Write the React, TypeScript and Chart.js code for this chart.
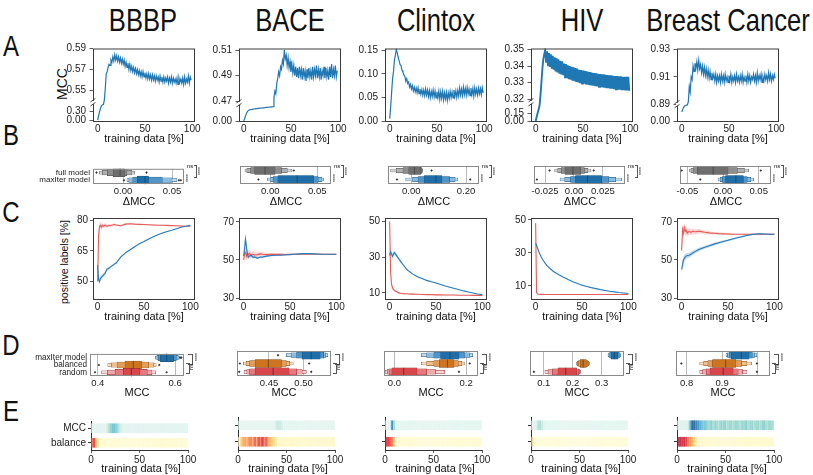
import React, { useEffect, useRef } from 'react';
import { Chart, registerables } from 'chart.js';
Chart.register(...registerables);

const SANS = '"Liberation Sans", Arial, Helvetica, sans-serif';

// ---------------- text ----------------
const DATASETS = ['BBBP', 'BACE', 'Clintox', 'HIV', 'Breast Cancer'];
const PCT_TICKS = [0, 50, 100];
const PCT_LABELS = ['0', '50', '100'];

// ---------------- A: MCC vs training data (one value per 1 % of training data) ----------------
const A_BBBP = [0.000,0.150,0.300,0.400,0.480,0.520,0.530,0.541,0.552,0.566,
0.568,0.572,0.575,0.574,0.579,0.577,0.582,0.578,0.584,0.579,
0.583,0.578,0.582,0.577,0.581,0.576,0.580,0.575,0.579,0.573,
0.577,0.572,0.576,0.570,0.575,0.569,0.573,0.568,0.572,0.567,
0.571,0.566,0.570,0.565,0.569,0.564,0.568,0.563,0.568,0.563,
0.567,0.562,0.566,0.561,0.566,0.561,0.565,0.560,0.565,0.560,
0.564,0.559,0.564,0.560,0.563,0.558,0.564,0.559,0.563,0.558,
0.563,0.558,0.562,0.559,0.563,0.557,0.562,0.558,0.563,0.557,
0.562,0.558,0.561,0.557,0.562,0.556,0.562,0.558,0.561,0.557,
0.562,0.556,0.563,0.557,0.561,0.558,0.564,0.557,0.563,0.560];
const A_BACE = [0.000,0.080,0.170,0.250,0.300,0.330,0.345,0.355,0.360,0.365,
0.370,0.375,0.380,0.385,0.390,0.393,0.396,0.400,0.403,0.406,
0.410,0.413,0.416,0.420,0.423,0.426,0.430,0.433,0.436,0.440,
0.443,0.446,0.473,0.478,0.476,0.484,0.488,0.493,0.490,0.497,
0.495,0.502,0.499,0.510,0.503,0.506,0.498,0.504,0.496,0.501,
0.493,0.499,0.492,0.498,0.490,0.497,0.489,0.496,0.488,0.497,
0.490,0.495,0.487,0.496,0.489,0.494,0.486,0.495,0.488,0.496,
0.489,0.494,0.487,0.497,0.489,0.495,0.490,0.498,0.488,0.495,
0.489,0.496,0.487,0.494,0.490,0.497,0.488,0.496,0.489,0.494,
0.487,0.497,0.489,0.499,0.488,0.495,0.490,0.498,0.489,0.494];
const A_CLINTOX = [0.005,0.030,0.060,0.090,0.105,0.130,0.140,0.152,0.145,0.135,
0.128,0.120,0.118,0.108,0.104,0.098,0.095,0.085,0.090,0.080,
0.083,0.072,0.078,0.068,0.075,0.064,0.072,0.062,0.070,0.060,
0.071,0.058,0.068,0.057,0.067,0.055,0.066,0.054,0.068,0.055,
0.066,0.052,0.065,0.050,0.063,0.052,0.066,0.051,0.064,0.049,
0.062,0.050,0.064,0.046,0.062,0.048,0.063,0.045,0.060,0.047,
0.061,0.044,0.060,0.048,0.063,0.050,0.062,0.049,0.066,0.052,
0.064,0.050,0.065,0.053,0.070,0.055,0.068,0.054,0.072,0.056,
0.069,0.055,0.071,0.057,0.068,0.054,0.070,0.056,0.069,0.053,
0.071,0.057,0.068,0.055,0.070,0.058,0.069,0.056,0.071,0.060];
const A_HIV = [0.000,0.080,0.150,0.220,0.290,0.322,0.330,0.338,0.344,0.347,
0.3495,0.3420,0.3488,0.3405,0.3478,0.3395,0.3470,0.3385,0.3462,0.3378,
0.3452,0.3368,0.3446,0.3362,0.3440,0.3355,0.3432,0.3350,0.3428,0.3345,
0.3415,0.3332,0.3412,0.3328,0.3405,0.3322,0.3400,0.3318,0.3396,0.3312,
0.3392,0.3310,0.3388,0.3305,0.3385,0.3302,0.3378,0.3298,0.3376,0.3295,
0.3374,0.3294,0.3372,0.3290,0.3368,0.3288,0.3366,0.3285,0.3364,0.3284,
0.3360,0.3282,0.3358,0.3280,0.3356,0.3278,0.3354,0.3275,0.3352,0.3274,
0.3350,0.3272,0.3350,0.3270,0.3348,0.3268,0.3346,0.3267,0.3345,0.3265,
0.3344,0.3264,0.3342,0.3262,0.3340,0.3260,0.3340,0.3258,0.3338,0.3258,
0.3338,0.3256,0.3336,0.3255,0.3336,0.3254,0.3335,0.3254,0.3336,0.3252];
const A_BC = [0.480,0.600,0.720,0.790,0.820,0.840,0.850,0.892,0.903,0.899,
0.910,0.908,0.918,0.914,0.920,0.916,0.921,0.915,0.922,0.916,
0.919,0.913,0.918,0.912,0.917,0.911,0.916,0.910,0.915,0.909,
0.914,0.908,0.913,0.909,0.912,0.907,0.912,0.906,0.911,0.907,
0.911,0.906,0.912,0.907,0.911,0.906,0.912,0.907,0.910,0.906,
0.911,0.907,0.912,0.906,0.910,0.907,0.911,0.906,0.912,0.907,
0.910,0.906,0.911,0.907,0.912,0.906,0.910,0.907,0.911,0.906,
0.912,0.907,0.911,0.906,0.910,0.908,0.912,0.907,0.911,0.906,
0.913,0.907,0.911,0.908,0.912,0.906,0.910,0.907,0.912,0.908,
0.911,0.907,0.913,0.908,0.912,0.907,0.911,0.908,0.912,0.909];
const A_SERIES = [A_BBBP, A_BACE, A_CLINTOX, A_HIV, A_BC];
const A_YTICKS = [[0, 0.3, 0.55, 0.57, 0.59], [0, 0.47, 0.49, 0.51], [0, 0.05, 0.1, 0.15], [0, 0.15, 0.32, 0.33, 0.34, 0.35], [0, 0.89, 0.91, 0.93]];
const A_YLABELS = [['0.00', '0.30', '0.55', '0.57', '0.59'], ['0.00', '0.47', '0.49', '0.51'], ['0.00', '0.05', '0.10', '0.15'], ['0.00', '0.15', '0.32', '0.33', '0.34', '0.35'], ['0.00', '0.89', '0.91', '0.93']];

// ---------------- B: ΔMCC letter-value plots (inner → outer levels) ----------------
const B_ROWS = ['full model', 'maxIter model'];
const B_FULL_LEVELS = [
  [[-0.010, 0.002], [-0.016, 0.004], [-0.021, 0.009], [-0.024, 0.012]],
  [[-0.0167, 0.005], [-0.021, 0.012], [-0.025, 0.018], [-0.027, 0.023]],
  [[-0.009, 0.034], [-0.030, 0.038], [-0.055, 0.040], [-0.075, 0.041]],
  [[-0.0078, 0.0058], [-0.011, 0.009], [-0.014, 0.012], [-0.0166, 0.0147]],
  [[-0.036, 0.007], [-0.042, 0.020], [-0.045, 0.030], [-0.047, 0.036]],
];
const B_FULL_MEDIAN = [-0.003, -0.0056, 0.012, -0.001, -0.014];
const B_FULL_OUTLIERS = [[-0.027, 0.024], [0.025], [0.074], [-0.021, 0.017], [-0.058, 0.053]];
const B_MAX_LEVELS = [
  [[0.0146, 0.026], [0.010, 0.040], [0.006, 0.050], [0.004, 0.055]],
  [[0.008, 0.046], [0.003, 0.051], [0.000, 0.055], [-0.003, 0.057]],
  [[0.047, 0.112], [0.025, 0.140], [0.005, 0.160], [-0.020, 0.170]],
  [[0.0013, 0.0238], [-0.003, 0.030], [-0.008, 0.036], [-0.012, 0.041]],
  [[0.0035, 0.0285], [-0.001, 0.034], [-0.004, 0.039], [-0.007, 0.043]],
];
const B_MAX_MEDIAN = [0.0225, 0.0286, 0.090, 0.0116, 0.018];
const B_MAX_OUTLIERS = [[0.001, 0.057, 0.059], [-0.0127], [-0.052, 0.215], [-0.032], [-0.032]];
const B_XRANGE = [[-0.0306, 0.0622], [-0.0323, 0.0646], [-0.0847, 0.247], [-0.0345, 0.044], [-0.0604, 0.0673]];
const B_XTICKS = [[0, 0.05], [0, 0.05], [0, 0.2], [-0.025, 0, 0.025], [-0.05, 0, 0.05]];
const B_XLABELS = [['0.00', '0.05'], ['0.00', '0.05'], ['0.00', '0.20'], ['-0.025', '0.00', '0.025'], ['-0.05', '0.00', '0.05']];

// ---------------- C: positive labels [%] ----------------
const C_X = [0, 1, 2, 3, 4, 5, 6, 8, 10, 12, 15, 18, 20, 25, 30, 35, 40, 45, 50, 55, 60, 65, 70, 75, 80, 85, 90, 95, 100];
const C_RED_MEAN = [
  [50, 72, 77, 77.5, 76.5, 77.5, 77, 77.5, 77, 77.3, 77.5, 77.8, 77.6, 77.2, 78, 78.2, 78, 77.9, 77.8, 77.7, 77.6, 77.5, 77.5, 77.4, 77.3, 77.2, 77.1, 77, 77],
  [50, 53.5, 54, 52, 53.5, 52.8, 53.5, 52.5, 53, 52.6, 52.8, 53.2, 53, 52.8, 53, 52.9, 53, 52.8, 53, 53, 53, 53.1, 53, 53, 53, 53, 53, 53, 53],
  [50, 22, 15, 13, 12, 11.5, 11, 10.5, 10, 9.8, 9.6, 9.5, 9.4, 9.3, 9.2, 9.1, 9, 9, 8.9, 8.9, 8.8, 8.8, 8.8, 8.7, 8.7, 8.7, 8.6, 8.6, 8.6],
  [48, 6, 5.2, 5, 5, 4.9, 4.9, 4.9, 4.8, 4.8, 4.8, 4.8, 4.8, 4.8, 4.8, 4.8, 4.8, 4.8, 4.8, 4.8, 4.8, 4.8, 4.8, 4.8, 4.8, 4.8, 4.8, 4.8, 4.8],
  [55, 66, 64, 67, 65, 65.5, 64, 65, 64.5, 65, 64.8, 65, 65, 64.5, 64.2, 64, 63.8, 63.7, 63.6, 63.5, 63.5, 63.5, 63.5, 63.5, 63.5, 63.5, 63.5, 63.5, 63.5],
];
const C_RED_SD = [
  [1, 2.5, 2, 1.5, 1.5, 1.2, 1, 1, 0.8, 0.8, 0.6, 0.6, 0.5, 0.5, 0.4, 0.4, 0.3, 0.3, 0.3, 0.3, 0.3, 0.2, 0.2, 0.2, 0.2, 0.2, 0.2, 0.1, 0.1],
  [4, 3, 3, 2.5, 2.5, 2, 2, 1.8, 1.5, 1.3, 1.2, 1, 1, 0.8, 0.7, 0.6, 0.5, 0.5, 0.4, 0.4, 0.3, 0.3, 0.3, 0.2, 0.2, 0.2, 0.1, 0.1, 0.1],
  [0.5, 2, 1.5, 1, 0.8, 0.7, 0.6, 0.5, 0.5, 0.4, 0.4, 0.3, 0.3, 0.3, 0.2, 0.2, 0.2, 0.2, 0.2, 0.2, 0.1, 0.1, 0.1, 0.1, 0.1, 0.1, 0.1, 0.1, 0.1],
  [0.5, 0.5, 0.3, 0.2, 0.2, 0.2, 0.2, 0.2, 0.1, 0.1, 0.1, 0.1, 0.1, 0.1, 0.1, 0.1, 0.1, 0.1, 0.1, 0.1, 0.1, 0.1, 0.1, 0.1, 0.1, 0.1, 0.1, 0.1, 0.1],
  [3, 3, 3, 2.5, 2.5, 2, 2, 1.8, 1.6, 1.5, 1.3, 1.2, 1.1, 1, 0.8, 0.7, 0.6, 0.5, 0.5, 0.4, 0.3, 0.3, 0.3, 0.2, 0.2, 0.2, 0.2, 0.2, 0.2],
];
const C_BLUE_MEAN = [
  [58, 51, 50, 51.5, 52, 52.5, 53, 54, 56, 56.5, 57.5, 58.5, 59, 62, 64, 65.5, 67, 68.5, 69.5, 70.7, 71.8, 72.8, 73.7, 74.4, 75, 75.8, 76.5, 77, 77.5],
  [52, 56, 61, 57, 53, 51.5, 52, 52.5, 51.5, 51.5, 51, 51.5, 51.5, 52, 52.3, 52.5, 52.5, 52.7, 52.8, 53, 53.2, 53.3, 53.3, 53.2, 53.1, 53, 53, 53, 53],
  [31, 33, 32, 30.5, 31.5, 32.5, 32, 30.5, 29, 27.5, 25.5, 23.5, 22.5, 20.5, 19, 18, 17, 16.2, 15.5, 14.7, 13.9, 13.2, 12.5, 11.8, 11.1, 10.5, 9.9, 9.4, 9],
  [36, 34.5, 33, 31.5, 30, 28.8, 27.6, 25.6, 24, 22.5, 20.8, 19.4, 18.5, 16.8, 15.3, 13.9, 12.6, 11.5, 10.5, 9.7, 9, 8.4, 7.8, 7.3, 6.8, 6.4, 6, 5.7, 5.4],
  [45, 47.5, 50, 51, 51.5, 52, 52.3, 52.5, 53, 53.7, 54.5, 55.3, 55.7, 56.7, 57.5, 58.3, 59, 59.7, 60.3, 61, 61.6, 62.2, 62.8, 63.3, 63.6, 63.7, 63.6, 63.5, 63.5],
];
const C_BLUE_SD = [
  [2, 1.5, 1.5, 1.2, 1.2, 1, 1, 0.8, 0.8, 0.6, 0.5, 0.5, 0.4, 0.4, 0.3, 0.3, 0.3, 0.3, 0.2, 0.2, 0.2, 0.2, 0.2, 0.2, 0.1, 0.1, 0.1, 0.1, 0.1],
  [3, 3, 2.5, 2, 1.5, 1.2, 1, 1, 0.8, 0.8, 0.6, 0.6, 0.5, 0.5, 0.4, 0.4, 0.4, 0.3, 0.3, 0.3, 0.3, 0.2, 0.2, 0.2, 0.2, 0.1, 0.1, 0.1, 0.1],
  [2, 2, 1.5, 1.5, 1.5, 1.2, 1.2, 1, 1, 0.8, 0.6, 0.5, 0.5, 0.4, 0.3, 0.3, 0.3, 0.2, 0.2, 0.2, 0.2, 0.2, 0.2, 0.1, 0.1, 0.1, 0.1, 0.1, 0.1],
  [1, 0.8, 0.6, 0.5, 0.5, 0.4, 0.4, 0.4, 0.3, 0.3, 0.3, 0.3, 0.2, 0.2, 0.2, 0.2, 0.2, 0.2, 0.1, 0.1, 0.1, 0.1, 0.1, 0.1, 0.1, 0.1, 0.1, 0.1, 0.1],
  [3, 2.5, 2, 1.8, 1.6, 1.5, 1.4, 1.3, 1.2, 1.1, 1, 1, 0.9, 0.8, 0.8, 0.7, 0.7, 0.6, 0.6, 0.5, 0.5, 0.5, 0.4, 0.4, 0.3, 0.3, 0.3, 0.3, 0.3],
];
const C_YRANGE = [[41, 81], [29, 72], [6, 52], [1.5, 51.2], [29, 72]];
const C_YTICKS = [[50, 65, 80], [30, 50, 70], [10, 30, 50], [10, 30, 50], [30, 50, 70]];

// ---------------- D: MCC letter-value plots ----------------
const D_ROWS = ['maxIter model', 'balanced', 'random'];
const D_MAX_LEVELS = [
  [[0.562, 0.596], [0.557, 0.603], [0.553, 0.608], [0.549, 0.611]],
  [[0.498, 0.524], [0.490, 0.529], [0.482, 0.532], [0.475, 0.535]],
  [[0.129, 0.180], [0.110, 0.195], [0.090, 0.210], [0.075, 0.218]],
  [[0.333, 0.355], [0.328, 0.360], [0.325, 0.363], [0.322, 0.365]],
  [[0.926, 0.976], [0.920, 0.985], [0.915, 0.992], [0.911, 0.998]],
];
const D_BAL_LEVELS = [
  [[0.4705, 0.513], [0.450, 0.532], [0.435, 0.545], [0.426, 0.551]],
  [[0.430, 0.468], [0.422, 0.475], [0.417, 0.480], [0.413, 0.485]],
  [[0.125, 0.166], [0.110, 0.178], [0.090, 0.188], [0.075, 0.195]],
  [[0.226, 0.247], [0.220, 0.252], [0.216, 0.255], [0.212, 0.258]],
  [[0.873, 0.939], [0.860, 0.955], [0.848, 0.970], [0.837, 0.983]],
];
const D_RND_LEVELS = [
  [[0.466, 0.509], [0.445, 0.528], [0.425, 0.540], [0.410, 0.550]],
  [[0.430, 0.479], [0.422, 0.490], [0.418, 0.498], [0.414, 0.504]],
  [[-0.007, 0.063], [-0.015, 0.090], [-0.020, 0.115], [-0.026, 0.140]],
  [[0.149, 0.213], [0.130, 0.220], [0.115, 0.224], [0.104, 0.227]],
  [[0.866, 0.931], [0.855, 0.945], [0.845, 0.958], [0.837, 0.970]],
];
const D_MEDIANS = [[0.578, 0.492, 0.487], [0.511, 0.449, 0.456], [0.155, 0.148, 0.026], [0.344, 0.236, 0.176], [0.954, 0.910, 0.903]];
const D_OUTLIERS = [
  [[0.613, 0.616], [0.403, 0.559], [0.393, 0.578]],
  [[0.463], [0.408, 0.508], [0.407, 0.511]],
  [[], [0.210], [0.180]],
  [[], [], [0.066]],
  [[], [0.785, 0.998], [0.998]],
];
const D_XRANGE = [[0.380, 0.623], [0.4038, 0.5396], [-0.029, 0.233], [0.0525, 0.377], [0.770, 1.035]];
const D_XTICKS = [[0.4, 0.6], [0.45, 0.5], [0, 0.2], [0.1, 0.2, 0.3], [0.8, 0.9, 1.0]];
const D_XLABELS = [['0.4', '0.6'], ['0.45', '0.50'], ['0.0', '0.2'], ['0.1', '0.2', '0.3'], ['0.8', '0.9', '']];

// ---------------- E: heat strips, one cell per 2 % of training data ----------------
const E_ROWS = ['MCC', 'balance'];
const E_MCC = [
  [0.12,0.12,0.12,0.12,0.12,0.12,0.12,0.12,0.30,0.45,0.55,0.62,0.55,0.48,0.30,0.22,0.12,0.12,0.12,0.12,0.12,0.12,0.12,0.12,0.12,0.12,0.12,0.12,0.12,0.12,0.12,0.12,0.12,0.12,0.12,0.12,0.12,0.12,0.12,0.12,0.12,0.12,0.12,0.12,0.12,0.12,0.12,0.12,0.12,0.12],
  [0.10,0.10,0.10,0.10,0.10,0.10,0.10,0.10,0.10,0.10,0.10,0.10,0.10,0.10,0.10,0.10,0.10,0.10,0.10,0.22,0.30,0.28,0.18,0.10,0.10,0.10,0.10,0.10,0.10,0.10,0.10,0.10,0.10,0.10,0.10,0.10,0.10,0.10,0.10,0.10,0.10,0.10,0.10,0.10,0.10,0.10,0.10,0.10,0.10,0.10],
  [0.10,0.10,0.10,0.85,0.45,0.15,0.10,0.10,0.10,0.10,0.10,0.10,0.10,0.10,0.10,0.10,0.10,0.10,0.10,0.10,0.10,0.10,0.10,0.10,0.10,0.10,0.10,0.10,0.10,0.10,0.10,0.10,0.10,0.10,0.10,0.10,0.10,0.10,0.10,0.10,0.10,0.10,0.10,0.10,0.10,0.10,0.10,0.10,0.10,0.10],
  [0.12,0.12,0.12,0.35,0.42,0.28,0.15,0.10,0.10,0.10,0.10,0.10,0.10,0.10,0.10,0.10,0.10,0.10,0.10,0.10,0.10,0.10,0.10,0.10,0.10,0.10,0.10,0.10,0.10,0.10,0.10,0.10,0.10,0.10,0.10,0.10,0.10,0.10,0.10,0.10,0.10,0.10,0.10,0.10,0.10,0.10,0.10,0.10,0.10,0.10],
  [0.15,0.15,0.15,0.15,0.15,0.20,0.60,0.95,1.00,0.85,0.80,0.70,0.65,0.55,0.60,0.50,0.45,0.55,0.40,0.50,0.45,0.40,0.50,0.45,0.55,0.40,0.45,0.50,0.40,0.45,0.50,0.45,0.40,0.50,0.45,0.55,0.40,0.45,0.50,0.40,0.45,0.50,0.40,0.45,0.55,0.45,0.40,0.50,0.45,0.40],
];
const E_BAL = [
  [0.60,0.80,0.35,0.15,0.04,0.04,0.04,0.04,0.04,0.04,0.04,0.04,0.04,0.04,0.04,0.04,0.04,0.04,0.04,0.04,0.04,0.04,0.04,0.04,0.04,0.04,0.04,0.04,0.04,0.04,0.04,0.04,0.04,0.04,0.04,0.04,0.04,0.04,0.04,0.04,0.04,0.04,0.04,0.04,0.04,0.04,0.04,0.04,0.04,0.04],
  [0.05,0.30,0.45,0.50,0.40,0.55,0.60,0.45,0.70,0.50,0.75,0.60,0.85,0.55,0.70,0.45,0.40,0.30,0.25,0.15,0.06,0.06,0.06,0.06,0.06,0.06,0.06,0.06,0.06,0.06,0.06,0.06,0.06,0.06,0.06,0.06,0.06,0.06,0.06,0.06,0.06,0.06,0.06,0.06,0.06,0.06,0.06,0.06,0.06,0.06],
  [0.75,0.80,0.70,0.60,0.30,0.04,0.04,0.04,0.04,0.04,0.04,0.04,0.04,0.04,0.04,0.04,0.04,0.04,0.04,0.04,0.04,0.04,0.04,0.04,0.04,0.04,0.04,0.04,0.04,0.04,0.04,0.04,0.04,0.04,0.04,0.04,0.04,0.04,0.04,0.04,0.04,0.04,0.04,0.04,0.04,0.04,0.04,0.04,0.04,0.04],
  [0.30,0.03,0.03,0.03,0.03,0.03,0.03,0.03,0.03,0.03,0.03,0.03,0.03,0.03,0.03,0.03,0.03,0.03,0.03,0.03,0.03,0.03,0.03,0.03,0.03,0.03,0.03,0.03,0.03,0.03,0.03,0.03,0.03,0.03,0.03,0.03,0.03,0.03,0.03,0.03,0.03,0.03,0.03,0.03,0.03,0.03,0.03,0.03,0.03,0.03],
  [0.85,0.90,0.80,0.85,0.75,0.60,0.50,0.45,0.30,0.20,0.05,0.05,0.05,0.05,0.05,0.05,0.05,0.05,0.05,0.05,0.05,0.05,0.05,0.05,0.05,0.05,0.05,0.05,0.05,0.05,0.05,0.05,0.05,0.05,0.05,0.05,0.05,0.05,0.05,0.05,0.05,0.05,0.05,0.05,0.05,0.05,0.05,0.05,0.05,0.05],
];

// ---------------- layout & style (not data) ----------------
const TITLE_X = [143, 290, 436, 582, 728];
const A_LEFT = [93, 239, 385, 531, 677];
const B_LEFT = [93, 240, 388, 534, 680];
const D_LEFT = [90, 237, 384, 530, 676];
const E_LEFT = [91, 238, 385, 531, 677];
// broken y axis: [px of 0 in lower part, px per unit lower, break px, first value of upper part, px per unit upper]
const A_AXIS = [[2, 30, 20, 0.5388, 1075], [1, 32.7, 19, 0.4685, 1312], [1, 480, 75, Infinity, 0], [1, 53.3, 20, 0.3182, 1700], [1, 19.35, 18, 0.89, 1400]];
const A_LINE_W = [1.2, 1.2, 1.2, 1.9, 1.2];
const LINE_BLUE = '#1f77b4';
const GRAY = ['#6e6e6e', '#8d8d8d', '#b0b0b0', '#d3d3d3'];
const BLUE = ['#1f6ea8', '#4f95c7', '#8bbbde', '#c3ddf0'];
const ORANGE = ['#cd7420', '#e39d58', '#efc08f', '#f8dec3'];
const RED = ['#d8474c', '#e6797d', '#f0a9ab', '#f8d4d5'];
const EDGE = { gray: '#4a4a4a', blue: '#164f7a', orange: '#7d4510', red: '#8a2226' };
const GNBU = ['#f2fbf4', '#dcf1ec', '#c8e9e0', '#a8ddcf', '#7bccc4', '#4eb3d3', '#2b8cbe', '#0868ac', '#084081'];
const YLORRD = ['#ffffe0', '#ffeda0', '#fed976', '#feb24c', '#fd8d3c', '#fc4e2a', '#e31a1c', '#bd0026', '#800026'];

function cmap(stops: string[], t: number, alpha = 0.7) {
  const tt = Math.max(0, Math.min(1, t)) * (stops.length - 1);
  const i = Math.min(stops.length - 2, Math.floor(tt));
  const f = tt - i;
  const h = (s: string) => [1, 3, 5].map((k) => parseInt(s.slice(k, k + 2), 16));
  const a = h(stops[i]), b = h(stops[i + 1]);
  const c = a.map((v, k) => Math.round(v + (b[k] - v) * f));
  return `rgba(${c[0]},${c[1]},${c[2]},${alpha})`;
}

function base(pad: number[]) {
  return {
    animation: false,
    responsive: false,
    maintainAspectRatio: false,
    devicePixelRatio: 1,
    events: [],
    layout: { padding: { left: 0, top: pad[1], right: pad[2], bottom: 0 } },
    plugins: { legend: { display: false }, tooltip: { enabled: false }, title: { display: false } },
  };
}

function linScale(pad: number[], axis: 'x' | 'y', min: number, max: number, ticks: number[], labels: string[], o: any = {}) {
  return {
    type: 'linear',
    position: axis === 'x' ? 'bottom' : 'left',
    min, max, beginAtZero: false,
    afterFit: (s: any) => { if (axis === 'x') s.height = pad[3]; else s.width = pad[0]; },
    afterBuildTicks: (s: any) => { s.ticks = ticks.map((v) => ({ value: v })); },
    ticks: {
      autoSkip: false, maxRotation: 0, minRotation: 0,
      padding: o.padding ?? 2, color: '#222',
      font: { family: SANS, size: o.size ?? 10 },
      callback: (_v: any, i: number) => labels[i],
    },
    grid: {
      display: !!(o.grid || o.tick), drawOnChartArea: !!o.grid, drawTicks: !!o.tick,
      tickLength: o.tickLength ?? 3, color: o.gridColor ?? '#333', lineWidth: 0.8,
    },
    border: { display: !!o.border, color: '#333', width: 1 },
  };
}

function catScale(pad: number[], o: any = {}) {
  return {
    type: 'category', position: 'left', offset: true,
    afterFit: (s: any) => { s.width = pad[0]; },
    ticks: { display: o.labels !== false, padding: o.padding ?? 3, color: '#222', font: { family: SANS, size: o.size ?? 8 }, autoSkip: false },
    grid: { display: !!o.tick, offset: false, drawOnChartArea: false, drawTicks: !!o.tick, tickLength: 3, color: '#333' },
    border: { display: !!o.border, color: '#333', width: 1 },
  };
}

const framePlugin = (color: string) => ({
  id: 'frame',
  afterDatasetsDraw(chart: any) {
    const { ctx, chartArea: a } = chart;
    ctx.save();
    ctx.strokeStyle = color;
    ctx.lineWidth = 1;
    ctx.strokeRect(a.left + 0.5, a.top + 0.5, a.right - a.left - 1, a.bottom - a.top - 1);
    ctx.restore();
  },
});

const breakPlugin = (brk: number) => ({
  id: 'brk',
  afterDraw(chart: any) {
    const { ctx, chartArea: a } = chart;
    const y = chart.scales.y.getPixelForValue(brk);
    const x = a.left + 0.5;
    ctx.save();
    ctx.fillStyle = '#fff';
    ctx.fillRect(x - 1.5, y - 1.5, 3, 3);
    ctx.strokeStyle = '#333';
    ctx.lineWidth = 0.9;
    ctx.beginPath();
    ctx.moveTo(x - 3, y - 0.5); ctx.lineTo(x + 2, y - 4);
    ctx.moveTo(x - 3, y + 3.5); ctx.lineTo(x + 2, y);
    ctx.stroke();
    ctx.restore();
  },
});

function ChartBox({ x, y, w, h, pad, build }: any) {
  const ref = useRef<HTMLCanvasElement>(null);
  const W = pad[0] + w + pad[2];
  const H = pad[1] + h + pad[3];
  useEffect(() => {
    const c = new Chart(ref.current as HTMLCanvasElement, build(pad));
    return () => c.destroy();
  }, []);
  return (
    <canvas ref={ref} width={W} height={H}
      style={{ position: 'absolute', left: x - pad[0], top: y - pad[1], width: W, height: H, display: 'block' }} />
  );
}

// ---------------- builders ----------------
function buildA(i: number) {
  return (pad: number[]) => {
    const [lz, ls, brk, up0, us] = A_AXIS[i];
    const map = (v: number) => (v >= up0 ? brk + (v - up0) * us : lz + v * ls);
    const pts = A_SERIES[i].map((v, k) => ({ x: k, y: map(v) }));
    const plugins: any[] = [framePlugin('#3a3a3a')];
    if (isFinite(up0)) plugins.push(breakPlugin(brk));
    return {
      type: 'line',
      data: { datasets: [{ data: pts, borderColor: LINE_BLUE, borderWidth: A_LINE_W[i], pointRadius: 0, tension: 0 }] },
      options: {
        ...base(pad),
        scales: {
          x: linScale(pad, 'x', -5, 103, PCT_TICKS, PCT_LABELS, { padding: 1 }),
          y: linScale(pad, 'y', 0, 75, A_YTICKS[i].map(map), A_YLABELS[i], { tick: true, tickLength: 3.5, padding: 3.5 }),
        },
      },
      plugins,
    };
  };
}

function buildC(i: number) {
  return (pad: number[]) => {
    const pts = (arr: number[]) => arr.map((v, k) => ({ x: C_X[k], y: v }));
    const band = (m: number[], s: number[], sign: number) => m.map((v, k) => ({ x: C_X[k], y: v + sign * s[k] }));
    const common = { pointRadius: 0, tension: 0 };
    return {
      type: 'line',
      data: {
        datasets: [
          { data: pts(C_BLUE_MEAN[i]), borderColor: '#2b7bba', borderWidth: 1.1, fill: false, ...common },
          { data: pts(C_RED_MEAN[i]), borderColor: '#e35d5b', borderWidth: 1.1, fill: false, ...common },
          { data: band(C_BLUE_MEAN[i], C_BLUE_SD[i], 1), borderWidth: 0, fill: false, ...common },
          { data: band(C_BLUE_MEAN[i], C_BLUE_SD[i], -1), borderWidth: 0, fill: '-1', backgroundColor: 'rgba(43,123,186,0.28)', ...common },
          { data: band(C_RED_MEAN[i], C_RED_SD[i], 1), borderWidth: 0, fill: false, ...common },
          { data: band(C_RED_MEAN[i], C_RED_SD[i], -1), borderWidth: 0, fill: '-1', backgroundColor: 'rgba(227,93,91,0.25)', ...common },
        ],
      },
      options: {
        ...base(pad),
        scales: {
          x: linScale(pad, 'x', -5, 105, PCT_TICKS, PCT_LABELS, { padding: 1 }),
          y: linScale(pad, 'y', C_YRANGE[i][0], C_YRANGE[i][1], C_YTICKS[i], C_YTICKS[i].map(String), { tick: true, tickLength: 3, padding: 2 }),
        },
      },
      plugins: [framePlugin('#3a3a3a')],
    };
  };
}

const THICK_B = [8, 6, 4.5, 3];
const THICK_D = [8, 6, 4.5, 3];

function boxenConfig(pad: number[], rows: string[], groups: any[], thick: number[], xr: number[], xt: number[], xl: string[], labelSize: number, showLabels: boolean) {
  const datasets: any[] = [];
  datasets.push({
    type: 'scatter',
    data: groups.map((g, j) => ({ x: g.median, y: rows[j] })),
    pointStyle: 'line', rotation: 90, radius: thick[0] / 2, borderWidth: 1,
    borderColor: groups.map((g) => g.edge), backgroundColor: groups.map((g) => g.edge),
  });
  const outs: any[] = [];
  groups.forEach((g, j) => g.out.forEach((v: number) => outs.push({ x: v, y: rows[j] })));
  datasets.push({ type: 'scatter', data: outs, pointStyle: 'rectRot', radius: 1.3, borderWidth: 0, backgroundColor: '#333' });
  thick.forEach((t, k) => {
    datasets.push({
      type: 'bar',
      data: groups.map((g) => g.levels[k]),
      backgroundColor: groups.map((g) => g.colors[k]),
      borderColor: groups.map((g) => g.edge),
      borderWidth: 0.5, borderSkipped: false, barThickness: t, grouped: false,
    });
  });
  return {
    type: 'bar',
    data: { labels: rows, datasets },
    options: {
      ...base(pad),
      indexAxis: 'y',
      scales: {
        x: linScale(pad, 'x', xr[0], xr[1], xt, xl, { grid: true, gridColor: '#a8a8a8', padding: 2, size: 9.5 }),
        y: catScale(pad, { size: labelSize, padding: 3, labels: showLabels }),
      },
    },
    plugins: [framePlugin('#8a8a8a')],
  };
}

function buildB(i: number) {
  return (pad: number[]) =>
    boxenConfig(pad, B_ROWS, [
      { levels: B_FULL_LEVELS[i], median: B_FULL_MEDIAN[i], out: B_FULL_OUTLIERS[i], colors: GRAY, edge: EDGE.gray },
      { levels: B_MAX_LEVELS[i], median: B_MAX_MEDIAN[i], out: B_MAX_OUTLIERS[i], colors: BLUE, edge: EDGE.blue },
    ], THICK_B, B_XRANGE[i], B_XTICKS[i], B_XLABELS[i], 8, i === 0);
}

function buildD(i: number) {
  return (pad: number[]) =>
    boxenConfig(pad, D_ROWS, [
      { levels: D_MAX_LEVELS[i], median: D_MEDIANS[i][0], out: D_OUTLIERS[i][0], colors: BLUE, edge: EDGE.blue },
      { levels: D_BAL_LEVELS[i], median: D_MEDIANS[i][1], out: D_OUTLIERS[i][1], colors: ORANGE, edge: EDGE.orange },
      { levels: D_RND_LEVELS[i], median: D_MEDIANS[i][2], out: D_OUTLIERS[i][2], colors: RED, edge: EDGE.red },
    ], THICK_D, D_XRANGE[i], D_XTICKS[i], D_XLABELS[i], 8.2, i === 0);
}

function buildE(i: number) {
  return (pad: number[]) => {
    const n = E_MCC[i].length;
    const step = 100 / n;
    const datasets = E_MCC[i].map((v, k) => ({
      data: [[k * step, (k + 1) * step], [k * step, (k + 1) * step]],
      backgroundColor: [cmap(GNBU, v), cmap(YLORRD, E_BAL[i][k])],
      borderWidth: 0, barThickness: 9, grouped: false,
    }));
    return {
      type: 'bar',
      data: { labels: E_ROWS, datasets },
      options: {
        ...base(pad),
        indexAxis: 'y',
        scales: {
          x: linScale(pad, 'x', 0, 100, PCT_TICKS, PCT_LABELS, { tick: true, border: true, padding: 1 }),
          y: catScale(pad, { size: 10, padding: 2, tick: true, border: true, labels: i === 0 }),
        },
      },
    };
  };
}

// ---------------- text helpers ----------------
function T({ x, y, size, children, rot = 0, sx = 1 }: any) {
  return (
    <div style={{
      position: 'absolute', left: x, top: y, fontSize: size, lineHeight: 1, whiteSpace: 'nowrap',
      fontFamily: SANS, color: '#111', transform: `translate(-50%,-50%) rotate(${rot}deg) scaleX(${sx})`,
    }}>{children}</div>
  );
}

function Bracket({ x, y, w, h }: any) {
  return <div style={{ position: 'absolute', left: x, top: y, width: w, height: h, borderTop: '0.8px solid #555', borderRight: '0.8px solid #555', borderBottom: '0.8px solid #555' }} />;
}

function SigB({ r }: any) {
  return (
    <>
      <T x={r + 6} y={166} size={6}>ns</T>
      <Bracket x={r + 10} y={165} w={2} h={11} />
      <T x={r + 4} y={178} size={5} rot={-90}>****</T>
      <T x={r + 16} y={171} size={5} rot={-90}>****</T>
    </>
  );
}

function SigD({ r }: any) {
  return (
    <>
      <Bracket x={r + 4} y={354} w={4} h={9} />
      <T x={r + 13} y={357} size={5} rot={-90}>****</T>
      <Bracket x={r + 2} y={363} w={3} h={9} />
      <T x={r + 8} y={367} size={5.5} rot={-90}>ns</T>
    </>
  );
}

export default function App() {
  const padA = [45, 8, 12, 14];
  const padB = [60, 3, 8, 14];
  const padC = [45, 8, 12, 14];
  const padD = [60, 3, 8, 14];
  const padE = [55, 4, 12, 16];
  return (
    <div style={{ position: 'absolute', left: 0, top: 0, width: 813, height: 475, background: '#fff', overflow: 'hidden' }}>
      {DATASETS.map((d, i) => <T key={'t' + i} x={TITLE_X[i]} y={20} size={32} sx={0.8}>{d}</T>)}
      {['A', 'B', 'C', 'D', 'E'].map((l, k) => <T key={l} x={11} y={[46, 135, 212, 345, 411][k]} size={30} sx={0.8}>{l}</T>)}
      <T x={62} y={84} size={14} rot={-90}>MCC</T>
      <T x={64} y={262} size={10.5} rot={-90}>positive labels [%]</T>
      {A_LEFT.map((x, i) => (
        <React.Fragment key={'a' + i}>
          <ChartBox x={x} y={47} w={102} h={75} pad={padA} build={buildA(i)} />
          <T x={x + 51} y={138} size={11}>training data [%]</T>
        </React.Fragment>
      ))}
      {B_LEFT.map((x, i) => (
        <React.Fragment key={'b' + i}>
          <ChartBox x={x} y={164} w={91} h={20} pad={padB} build={buildB(i)} />
          <T x={x + 46} y={201} size={11}>ΔMCC</T>
          <SigB r={x + 91} />
        </React.Fragment>
      ))}
      {A_LEFT.map((x, i) => (
        <React.Fragment key={'c' + i}>
          <ChartBox x={x} y={218} w={102} h={82} pad={padC} build={buildC(i)} />
          <T x={x + 51} y={316} size={11}>training data [%]</T>
        </React.Fragment>
      ))}
      {D_LEFT.map((x, i) => (
        <React.Fragment key={'d' + i}>
          <ChartBox x={x} y={349} w={94} h={27} pad={padD} build={buildD(i)} />
          <T x={x + 47} y={392} size={11}>MCC</T>
          <SigD r={x + 94} />
        </React.Fragment>
      ))}
      {E_LEFT.map((x, i) => (
        <React.Fragment key={'e' + i}>
          <ChartBox x={x} y={417} w={97} h={33} pad={padE} build={buildE(i)} />
          <T x={x + 50} y={468} size={11}>training data [%]</T>
        </React.Fragment>
      ))}
    </div>
  );
}
